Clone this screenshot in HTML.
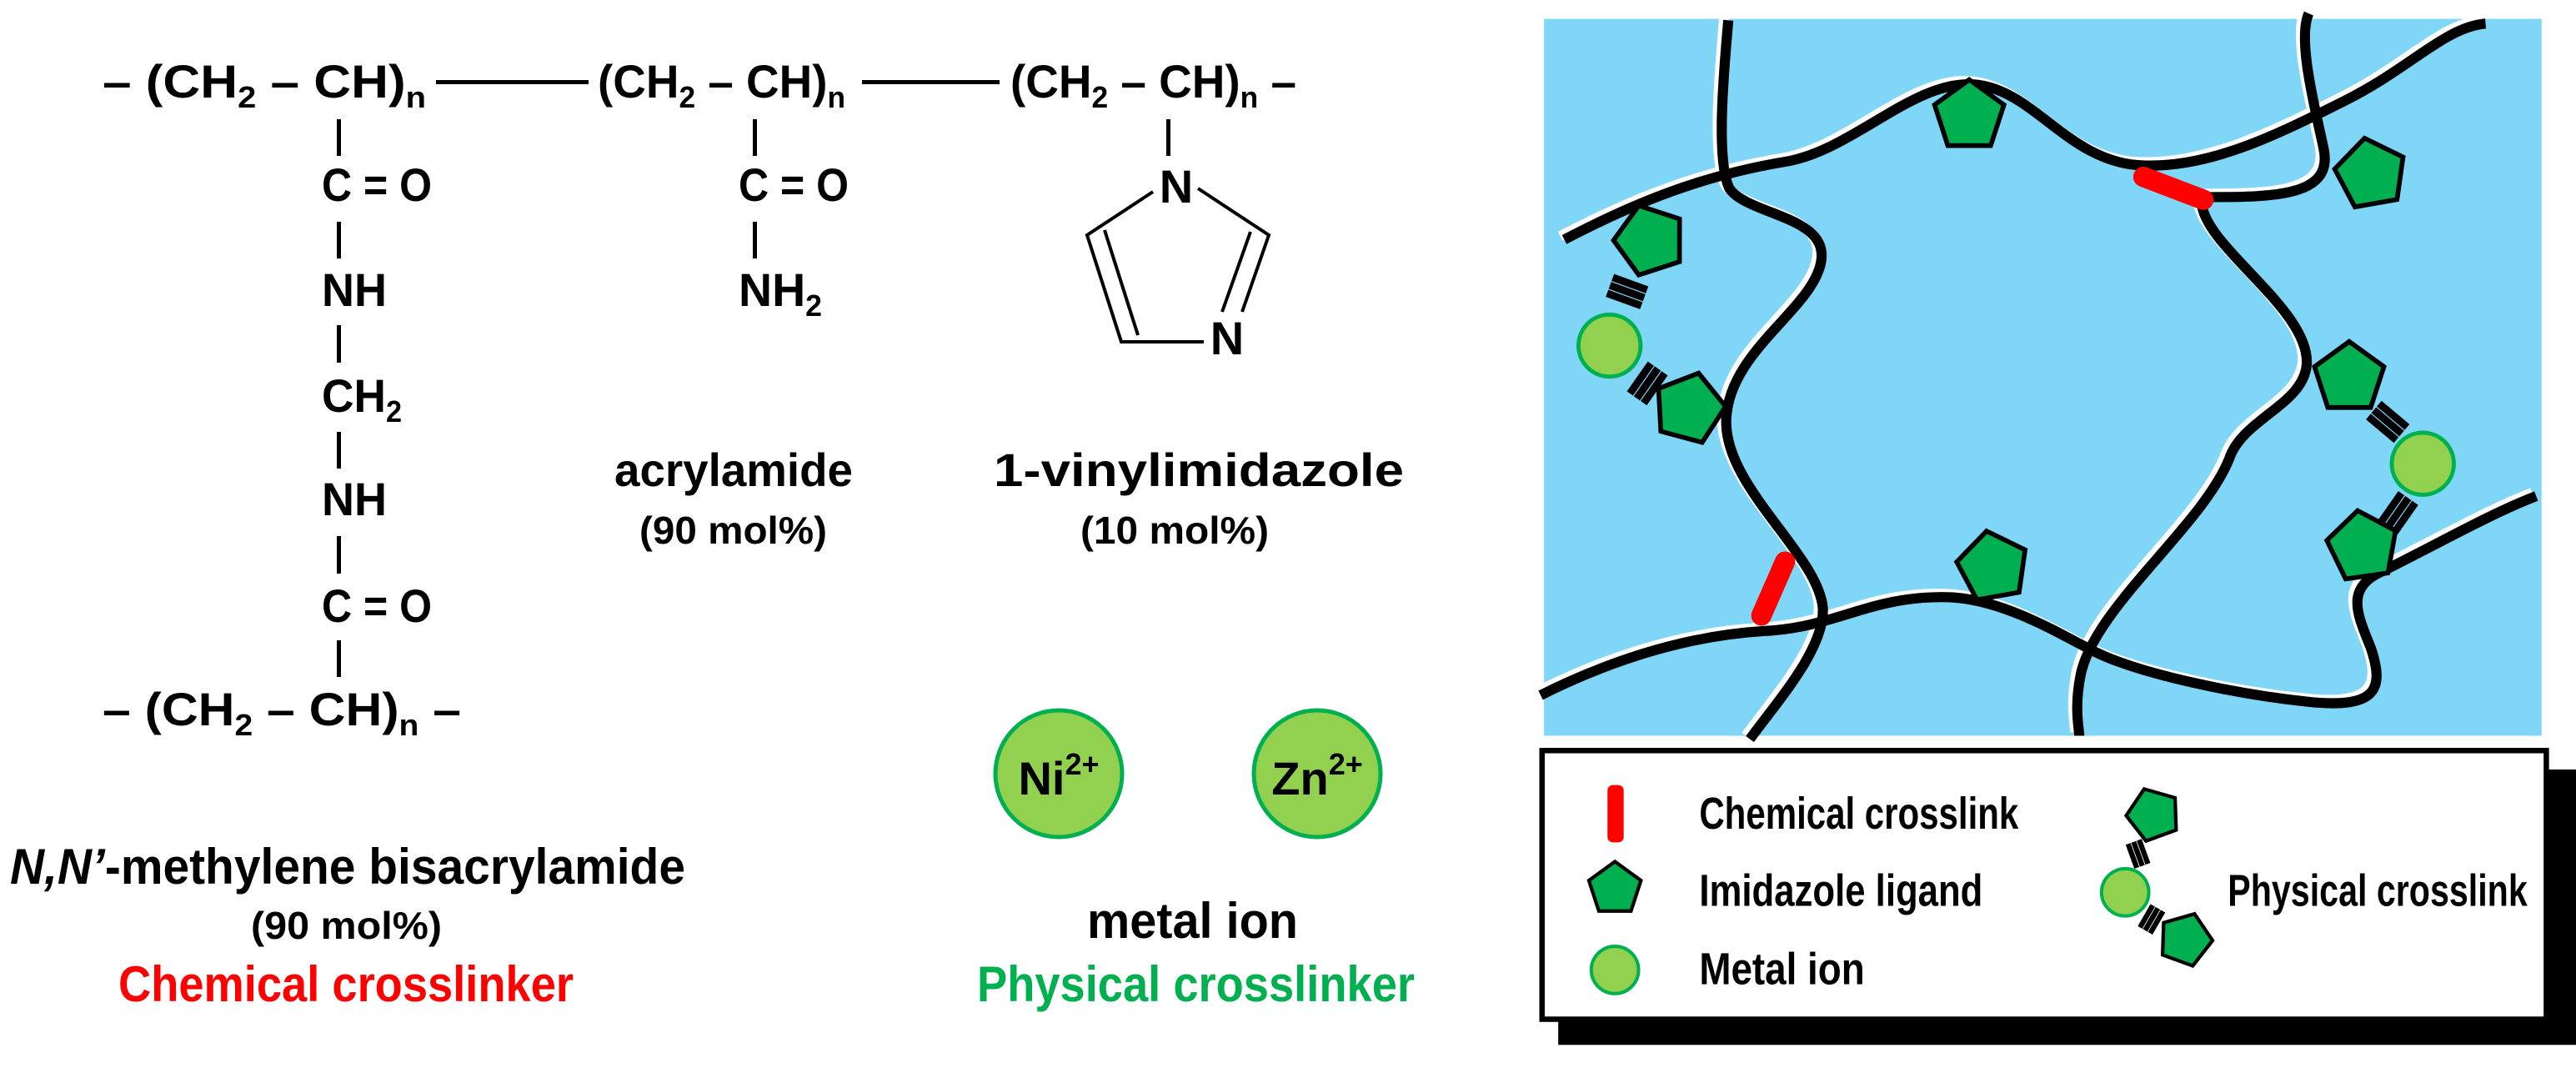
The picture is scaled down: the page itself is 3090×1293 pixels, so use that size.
<!DOCTYPE html>
<html><head><meta charset="utf-8"><style>
html,body{margin:0;padding:0;background:#fff}
svg{display:block}
text{font-family:"Liberation Sans Narrow","Liberation Sans",sans-serif;font-weight:bold}
</style></head><body>
<svg width="3090" height="1293" viewBox="0 0 3090 1293" xmlns="http://www.w3.org/2000/svg">
<defs>
<polygon id="pg" points="0,-54 51.4,-16.7 31.7,43.7 -31.7,43.7 -51.4,-16.7" fill="#00b050" stroke="#000" stroke-width="7" stroke-linejoin="miter"/>
<g id="bars"><rect x="-27" y="-18" width="54" height="11" fill="#000"/><rect x="-27" y="-5.5" width="54" height="11" fill="#000"/><rect x="-27" y="7" width="54" height="11" fill="#000"/></g>
</defs>
<g fill="#000" font-size="56">
<text x="123" y="117" textLength="388" lengthAdjust="spacingAndGlyphs">– (CH<tspan font-size="36" dy="12">2</tspan><tspan dy="-12"> – CH)</tspan><tspan font-size="36" dy="12">n</tspan></text>
<rect x="523" y="96" width="183" height="5"/>
<text x="717" y="117" textLength="297" lengthAdjust="spacingAndGlyphs">(CH<tspan font-size="36" dy="12">2</tspan><tspan dy="-12"> – CH)</tspan><tspan font-size="36" dy="12">n</tspan></text>
<rect x="1034" y="96" width="165" height="5"/>
<text x="1212" y="117" textLength="343" lengthAdjust="spacingAndGlyphs">(CH<tspan font-size="36" dy="12">2</tspan><tspan dy="-12"> – CH)</tspan><tspan font-size="36" dy="12">n</tspan><tspan dy="-12"> –</tspan></text>
<rect x="404" y="143" width="5" height="44"/>
<text x="386" y="241" textLength="132" lengthAdjust="spacingAndGlyphs">C = O</text>
<rect x="404" y="266" width="5" height="44"/>
<text x="386" y="367" textLength="78" lengthAdjust="spacingAndGlyphs">NH</text>
<rect x="404" y="390" width="5" height="45"/>
<text x="386" y="494" textLength="96" lengthAdjust="spacingAndGlyphs">CH<tspan font-size="36" dy="12">2</tspan></text>
<rect x="404" y="518" width="5" height="44"/>
<text x="386" y="618" textLength="78" lengthAdjust="spacingAndGlyphs">NH</text>
<rect x="404" y="643" width="5" height="45"/>
<text x="386" y="746" textLength="132" lengthAdjust="spacingAndGlyphs">C = O</text>
<rect x="404" y="768" width="5" height="44"/>
<text x="123" y="870" textLength="430" lengthAdjust="spacingAndGlyphs">– (CH<tspan font-size="36" dy="12">2</tspan><tspan dy="-12"> – CH)</tspan><tspan font-size="36" dy="12">n</tspan><tspan dy="-12"> –</tspan></text>
<rect x="903" y="143" width="5" height="44"/>
<text x="886" y="241" textLength="132" lengthAdjust="spacingAndGlyphs">C = O</text>
<rect x="903" y="266" width="5" height="44"/>
<text x="886" y="367" textLength="100" lengthAdjust="spacingAndGlyphs">NH<tspan font-size="36" dy="12">2</tspan></text>
<rect x="1399" y="143" width="5" height="44"/>
<text x="1411" y="243" text-anchor="middle">N</text>
<text x="1472" y="425" text-anchor="middle">N</text>
<g stroke="#000" stroke-width="4" fill="none">
<path d="M1383,230 L1304,282 L1345,410 L1444,410"/>
<path d="M1325,276 L1365,402"/>
<path d="M1437,226 L1522,282 L1490,374"/>
<path d="M1500,278 L1466,374"/>
</g>
<text x="737" y="583" textLength="286" lengthAdjust="spacingAndGlyphs">acrylamide</text>
<text x="767" y="652" font-size="46" textLength="225" lengthAdjust="spacingAndGlyphs">(90 mol%)</text>
<text x="1192" y="583" textLength="492" lengthAdjust="spacingAndGlyphs">1-vinylimidazole</text>
<text x="1296" y="652" font-size="46" textLength="226" lengthAdjust="spacingAndGlyphs">(10 mol%)</text>
<circle cx="1270" cy="928" r="76" fill="#92d050" stroke="#00b050" stroke-width="5"/>
<circle cx="1580" cy="928" r="76" fill="#92d050" stroke="#00b050" stroke-width="5"/>
<text x="1270" y="953" text-anchor="middle">Ni<tspan font-size="36" dy="-24">2+</tspan></text>
<text x="1580" y="953" text-anchor="middle">Zn<tspan font-size="36" dy="-24">2+</tspan></text>
<text x="12" y="1060" font-size="60" textLength="810" lengthAdjust="spacingAndGlyphs"><tspan font-style="italic">N,N’</tspan>-methylene bisacrylamide</text>
<text x="301" y="1126" font-size="46" textLength="229" lengthAdjust="spacingAndGlyphs">(90 mol%)</text>
<text x="142" y="1201" font-size="60" fill="#ff0000" textLength="546" lengthAdjust="spacingAndGlyphs">Chemical crosslinker</text>
<text x="1304" y="1125" font-size="60" textLength="253" lengthAdjust="spacingAndGlyphs">metal ion</text>
<text x="1172" y="1201" font-size="60" fill="#00b050" textLength="525" lengthAdjust="spacingAndGlyphs">Physical crosslinker</text>
</g>

<g transform="translate(1840,0) scale(0.8096)">
<rect x="15" y="28" width="1478" height="1062" fill="#7fd6f7"/>
<g fill="none" stroke-linecap="butt">
<g stroke="#fff" stroke-width="15" transform="translate(-6,-5)">
<path d="M288,30 C280,120 270,240 290,280 C320,320 440,320 425,390 C410,460 290,520 285,620 C280,720 420,820 428,900 C432,960 360,1040 320,1095"/>
<path d="M45,355 C150,300 250,260 370,240 C470,225 560,120 650,125 C740,130 790,240 900,245 C1000,250 1100,200 1200,150 C1300,100 1350,40 1410,35"/>
<path d="M1148,20 C1130,60 1160,170 1170,220 C1185,290 1100,292 1000,292"/>
<path d="M990,305 C1000,370 1150,460 1145,540 C1140,600 1050,620 1030,680 C990,780 830,900 810,1000 C800,1050 808,1080 808,1090"/>
<path d="M10,1030 C150,960 260,940 340,935 C450,930 500,880 620,885 C700,890 780,940 830,965 C900,1000 1050,1030 1150,1040 C1250,1050 1260,1020 1240,960 C1220,910 1200,870 1260,845 C1350,800 1420,760 1485,735"/>
</g>
<g stroke="#000" stroke-width="15">
<path d="M288,30 C280,120 270,240 290,280 C320,320 440,320 425,390 C410,460 290,520 285,620 C280,720 420,820 428,900 C432,960 360,1040 320,1095"/>
<path d="M45,355 C150,300 250,260 370,240 C470,225 560,120 650,125 C740,130 790,240 900,245 C1000,250 1100,200 1200,150 C1300,100 1350,40 1410,35"/>
<path d="M1148,20 C1130,60 1160,170 1170,220 C1185,290 1100,292 1000,292"/>
<path d="M990,305 C1000,370 1150,460 1145,540 C1140,600 1050,620 1030,680 C990,780 830,900 810,1000 C800,1050 808,1080 808,1090"/>
<path d="M10,1030 C150,960 260,940 340,935 C450,930 500,880 620,885 C700,890 780,940 830,965 C900,1000 1050,1030 1150,1040 C1250,1050 1260,1020 1240,960 C1220,910 1200,870 1260,845 C1350,800 1420,760 1485,735"/>
</g>
<g stroke="#ff0000" stroke-width="30" stroke-linecap="round">
<path d="M903,262 L992,296"/>
<path d="M372,832 L337,912"/>
</g>
</g>
<use href="#pg" transform="translate(645,172)"/>
<use href="#pg" transform="translate(172,356) rotate(-18)"/>
<use href="#pg" transform="translate(230,605) rotate(15)"/>
<use href="#pg" transform="translate(1240,258) rotate(-10)"/>
<use href="#pg" transform="translate(1208,560)"/>
<use href="#pg" transform="translate(1228,810) rotate(-8)"/>
<use href="#pg" transform="translate(680,840) rotate(-10)"/>
<circle cx="112" cy="512" r="46" fill="#92d050" stroke="#00b050" stroke-width="6"/>
<circle cx="1317" cy="687" r="46" fill="#92d050" stroke="#00b050" stroke-width="6"/>
<use href="#bars" transform="translate(138,432) rotate(20)"/>
<use href="#bars" transform="translate(168,568) rotate(-55)"/>
<use href="#bars" transform="translate(1265,625) rotate(40)"/>
<use href="#bars" transform="translate(1280,760) rotate(-55)"/>
<rect x="36" y="1140" width="1508" height="408" fill="#000"/>
<rect x="12" y="1112" width="1488" height="398" fill="#fff" stroke="#000" stroke-width="8"/>
<rect x="109" y="1163" width="24" height="85" rx="8" fill="#ff0000"/>
<use href="#pg" transform="translate(120,1317) scale(0.75)"/>
<circle cx="120" cy="1437" r="35" fill="#92d050" stroke="#00b050" stroke-width="5"/>
<use href="#pg" transform="translate(918,1207) scale(0.75) rotate(-20)"/>
<circle cx="876" cy="1322" r="35" fill="#92d050" stroke="#00b050" stroke-width="5"/>
<use href="#pg" transform="translate(965,1392) scale(0.75) rotate(20)"/>
<use href="#bars" transform="translate(895,1265) rotate(70) scale(0.7)"/>
<use href="#bars" transform="translate(915,1362) rotate(-60) scale(0.7)"/>
<g font-size="66" fill="#000">
<text x="245" y="1228" textLength="473" lengthAdjust="spacingAndGlyphs">Chemical crosslink</text>
<text x="245" y="1342" textLength="420" lengthAdjust="spacingAndGlyphs">Imidazole ligand</text>
<text x="245" y="1458" textLength="245" lengthAdjust="spacingAndGlyphs">Metal ion</text>
<text x="1028" y="1342" textLength="444" lengthAdjust="spacingAndGlyphs">Physical crosslink</text>
</g>
</g>
</svg>
</body></html>
